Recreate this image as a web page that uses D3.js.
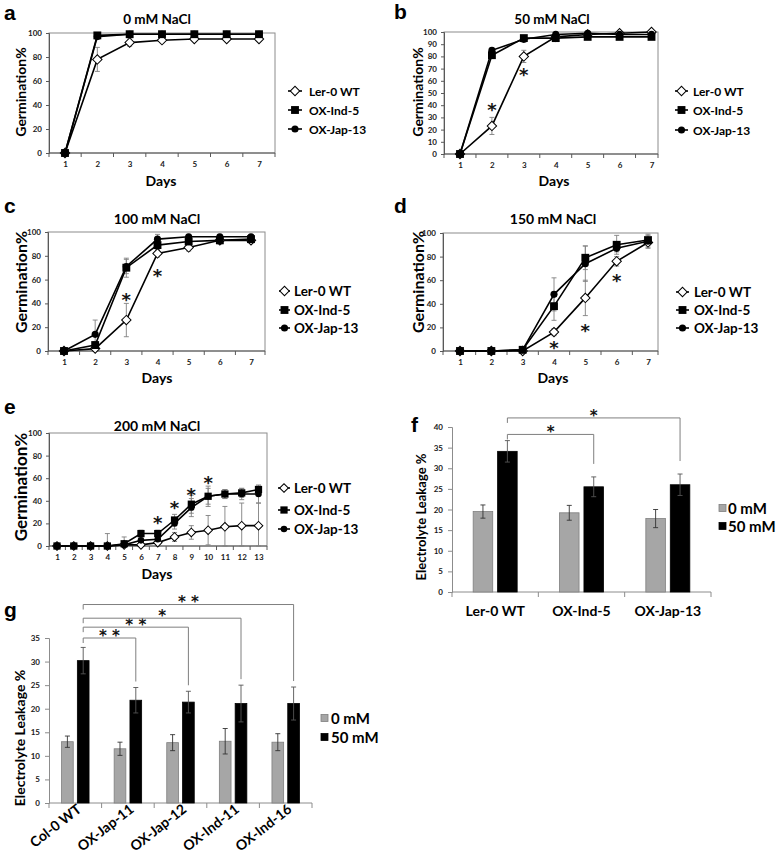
<!DOCTYPE html>
<html><head><meta charset="utf-8">
<script src="https://cdn.jsdelivr.net/npm/d3@7"></script>
<style>body{margin:0;background:#fff} svg{display:block}</style>
</head><body><svg id="chart" width="780" height="860"></svg>
<script>
// ---------------- DATA ----------------
const seriesNames = ["Ler-0 WT", "OX-Ind-5", "OX-Jap-13"];
const days7 = [1, 2, 3, 4, 5, 6, 7];
const days13 = [1, 2, 3, 4, 5, 6, 7, 8, 9, 10, 11, 12, 13];

// a: 0 mM NaCl
const a_ler = [0, 78, 92, 94, 95, 95, 95];
const a_lerErr = [0, 10, 3, 2, 1, 1, 1];
const a_ind = [0, 98, 99, 99, 99, 99, 99];
const a_indErr = [0, 1, 1, 1, 1, 1, 1];
const a_jap = [0, 97, 99, 99, 99, 99, 99];
const a_japErr = [0, 1, 0, 0, 0, 0, 0];
const a_stars = [];

// b: 50 mM NaCl
const b_ler = [0, 23, 80, 96, 98, 99, 100];
const b_lerErr = [0, 7, 5, 1, 1, 1, 0];
const b_ind = [0, 81, 95, 95, 96, 96, 96];
const b_indErr = [0, 2, 1, 1, 1, 1, 1];
const b_jap = [0, 85, 94, 98, 99, 98, 98];
const b_japErr = [0, 2, 2, 1, 1, 1, 1];
const b_stars = [[2, 40], [3, 68]];

// c: 100 mM NaCl
const c_ler = [0, 2, 26, 82, 87, 93, 93];
const c_lerErr = [0, 1, 14, 3, 3, 2, 2];
const c_ind = [0, 5, 70, 89, 92, 93, 94];
const c_indErr = [0, 3, 8, 4, 2, 3, 3];
const c_jap = [0, 14, 71, 94, 96, 96, 96];
const c_japErr = [0, 12, 6, 4, 2, 2, 2];
const c_stars = [[3, 47], [4, 67]];

// d: 150 mM NaCl
const d_ler = [0, 0, 0, 16, 45, 76, 92];
const d_lerErr = [0, 0, 0, 3, 15, 4, 4];
const d_ind = [0, 0, 1, 38, 79, 90, 94];
const d_indErr = [0, 0, 1, 12, 10, 8, 4];
const d_jap = [0, 0, 1, 48, 74, 87, 93];
const d_japErr = [0, 0, 1, 14, 15, 3, 6];
const d_stars = [[4, 6], [5, 21], [6, 63]];

// e: 200 mM NaCl
const e_ler = [0, 0, 0, 0, 1, 1, 3, 8, 12, 14, 17, 18, 18];
const e_lerErr = [0, 0, 0, 11, 7, 2, 3, 4, 6, 13, 18, 20, 20];
const e_ind = [0, 0, 0, 0, 2, 11, 11, 23, 37, 44, 46, 47, 50];
const e_indErr = [0, 0, 0, 0, 2, 3, 3, 5, 8, 7, 4, 4, 3];
const e_jap = [0, 0, 0, 0, 1, 5, 6, 20, 34, 44, 46, 46, 46];
const e_japErr = [0, 0, 0, 0, 1, 2, 2, 5, 8, 9, 4, 5, 8];
const e_stars = [[7, 24], [8, 38], [9, 49], [10, 60]];

// f: electrolyte leakage (Ler background)
const legendLabels = ["0 mM", "50 mM"];
const f_cats = ["Ler-0 WT", "OX-Ind-5", "OX-Jap-13"];
const f_0mM = [19.5, 19.2, 17.8];
const f_0mMErr = [1.6, 1.8, 2.2];
const f_50mM = [34.1, 25.5, 26.0];
const f_50mMErr = [2.6, 2.4, 2.6];
const f_sig = [["OX-Ind-5", "*", 38.2], ["OX-Jap-13", "*", 42.2]];

// g: electrolyte leakage (Col background)
const g_cats = ["Col-0 WT", "OX-Jap-11", "OX-Jap-12", "OX-Ind-11", "OX-Ind-16"];
const g_0mM = [13.0, 11.5, 12.8, 13.1, 12.9];
const g_0mMErr = [1.2, 1.4, 1.7, 2.7, 1.8];
const g_50mM = [30.2, 21.8, 21.4, 21.1, 21.1];
const g_50mMErr = [2.8, 2.7, 2.3, 3.9, 3.5];
const g_sig = [["OX-Jap-11", "* *", 35.0], ["OX-Jap-12", "* *", 37.3], ["OX-Ind-11", "*", 39.2], ["OX-Ind-16", "* *", 42.1]];

// ---------------- DRAWING ----------------
const FONT = 'Lato, "Open Sans", "DejaVu Sans", sans-serif';
const STARFONT = '"DejaVu Sans", sans-serif';
const svg = d3.select("#chart").attr("font-family", FONT).attr("fill", "#000");
const AX = "#595959", FRAME = "#8c8c8c", ERR = "#808080";
const markerTypes = ["diamond", "square", "circle"];

function styleAxisText(sel, fs) {
  sel.selectAll("text").attr("font-size", fs).attr("font-weight", "bold").attr("fill", "#1a1a1a").attr("font-family", FONT);
}

function star(g, x, y, txt, fs) {
  // y = visual centre of the asterisk
  g.append("text").attr("x", x).attr("y", y + 0.58 * fs).attr("text-anchor", "middle")
    .attr("font-family", STARFONT).attr("font-size", fs).attr("font-weight", "bold")
    .attr("fill", "#111").attr("opacity", 0.99).text(txt);
}

function drawMarker(g, type, cx, cy, sc) {
  if (type === "diamond") {
    g.append("path").attr("d", d3.symbol(d3.symbolSquare, 44 * sc)())
      .attr("transform", `translate(${cx},${cy}) rotate(45)`)
      .attr("fill", "#fff").attr("stroke", "#000").attr("stroke-width", 1);
  } else if (type === "square") {
    g.append("path").attr("d", d3.symbol(d3.symbolSquare, 62 * sc)())
      .attr("transform", `translate(${cx},${cy})`).attr("fill", "#000");
  } else {
    g.append("path").attr("d", d3.symbol(d3.symbolCircle, 40 * sc)())
      .attr("transform", `translate(${cx},${cy})`).attr("fill", "#000");
  }
}

function linePanel(p) {
  const g = svg.append("g");
  const x = d3.scalePoint().domain(p.days).range([p.c0, p.c1]);
  const y = d3.scaleLinear().domain([0, 100]).range([p.y1, p.y0]);
  const step = x.step();

  g.append("rect").attr("x", p.x0).attr("y", p.y0).attr("width", p.x1 - p.x0).attr("height", p.y1 - p.y0)
    .attr("fill", "none").attr("stroke", FRAME).attr("stroke-width", 1);

  const ya = g.append("g").attr("transform", `translate(${p.x0},0)`)
    .call(d3.axisLeft(y).tickValues(p.yTicks).tickSize(3).tickPadding(4));
  ya.select(".domain").attr("stroke", AX);
  ya.selectAll(".tick line").attr("stroke", AX);
  styleAxisText(ya, p.tickFs);

  const xa = g.append("g").attr("transform", `translate(0,${p.y1})`)
    .call(d3.axisBottom(x).tickSize(0).tickPadding(8));
  xa.select(".domain").remove();
  styleAxisText(xa, p.tickFs);
  g.append("line").attr("x1", p.x0).attr("x2", p.x1).attr("y1", p.y1).attr("y2", p.y1).attr("stroke", AX);
  const bounds = [p.x0, ...p.days.slice(0, -1).map(d => x(d) + step / 2), p.x1];
  g.selectAll(null).data(bounds).enter().append("line")
    .attr("x1", d => d).attr("x2", d => d).attr("y1", p.y1).attr("y2", p.y1 + 4).attr("stroke", AX);

  const series = p.series.map((s, i) => ({
    type: markerTypes[i],
    pts: p.days.map((d, k) => ({ d, v: s[0][k], e: s[1][k] }))
  }));

  // error bars
  series.forEach(s => {
    s.pts.filter(q => q.e > 0).forEach(q => {
      const cx = x(q.d), t = y(q.v + q.e), b = y(Math.max(q.v - q.e, 0));
      g.append("line").attr("x1", cx).attr("x2", cx).attr("y1", t).attr("y2", b).attr("stroke", ERR).attr("stroke-width", 0.9);
      [t, b].forEach(yy => g.append("line").attr("x1", cx - 2.5).attr("x2", cx + 2.5).attr("y1", yy).attr("y2", yy).attr("stroke", ERR).attr("stroke-width", 0.9));
    });
  });
  // lines
  const line = d3.line().x(q => x(q.d)).y(q => y(q.v));
  series.forEach(s => g.append("path").attr("d", line(s.pts)).attr("fill", "none").attr("stroke", "#000").attr("stroke-width", 1.6));
  // markers: Ler, Jap, Ind
  [0, 2, 1].forEach(i => series[i].pts.forEach(q => drawMarker(g, series[i].type, x(q.d), y(q.v), p.mk)));

  // stars
  p.stars.forEach(([d, v]) => star(g, x(d), y(v), "*", p.starFs));

  // texts
  g.append("text").attr("x", p.title[0]).attr("y", p.title[1]).attr("text-anchor", "middle").attr("dominant-baseline", "central")
    .attr("font-size", p.titleFs).attr("font-weight", "bold").text(p.titleText);
  g.append("text").attr("x", p.letter[0]).attr("y", p.letter[1]).attr("font-size", 21).attr("font-weight", "bold")
    .attr("font-family", '"Liberation Sans", Arial, sans-serif').text(p.letterText);
  g.append("text").attr("x", p.daysXY[0]).attr("y", p.daysXY[1]).attr("text-anchor", "middle").attr("dominant-baseline", "central")
    .attr("font-size", 14).attr("font-weight", "bold").text("Days");
  g.append("text").attr("transform", `translate(${p.ylab[0]},${p.ylab[1]}) rotate(-90)`).attr("text-anchor", "middle")
    .attr("dominant-baseline", "central").attr("font-size", p.ylab[2]).attr("font-weight", "bold").text("Germination%");

  // legend
  seriesNames.forEach((nm, i) => {
    const ly = p.legend.ys[i];
    g.append("line").attr("x1", p.legend.l0).attr("x2", p.legend.l1).attr("y1", ly).attr("y2", ly).attr("stroke", "#000").attr("stroke-width", 1.6);
    drawMarker(g, markerTypes[i], (p.legend.l0 + p.legend.l1) / 2, ly, p.mk);
    g.append("text").attr("x", p.legend.tx).attr("y", ly).attr("dominant-baseline", "central")
      .attr("font-size", p.legend.fs).attr("font-weight", "bold").text(nm);
  });
}

const t20 = d3.range(0, 101, 20), t10 = d3.range(0, 101, 10);
linePanel({ days: days7, series: [[a_ler, a_lerErr], [a_ind, a_indErr], [a_jap, a_japErr]], stars: a_stars, starFs: 18,
  x0: 49, x1: 275, c0: 65, c1: 259, y0: 33, y1: 153, yTicks: t20, tickFs: 8, mk: 1,
  titleText: "0 mM NaCl", titleFs: 13.5, title: [157, 19], letterText: "a", letter: [4, 20], daysXY: [161, 180], ylab: [20, 92, 14],
  legend: { l0: 288, l1: 302, tx: 309, ys: [91, 110, 129], fs: 12 } });
linePanel({ days: days7, series: [[b_ler, b_lerErr], [b_ind, b_indErr], [b_jap, b_japErr]], stars: b_stars, starFs: 18,
  x0: 444, x1: 658, c0: 460, c1: 651.5, y0: 32, y1: 154, yTicks: t10, tickFs: 8, mk: 1,
  titleText: "50 mM NaCl", titleFs: 13.5, title: [552, 19], letterText: "b", letter: [394, 19], daysXY: [554, 180], ylab: [417, 92, 14],
  legend: { l0: 675, l1: 688, tx: 693, ys: [91, 110, 130], fs: 12 } });
linePanel({ days: days7, series: [[c_ler, c_lerErr], [c_ind, c_indErr], [c_jap, c_japErr]], stars: c_stars, starFs: 18,
  x0: 48, x1: 265, c0: 64, c1: 251, y0: 232, y1: 351, yTicks: t20, tickFs: 8, mk: 1,
  titleText: "100 mM NaCl", titleFs: 14, title: [157, 218], letterText: "c", letter: [4, 213], daysXY: [157, 377], ylab: [20, 282, 16],
  legend: { l0: 279, l1: 290, tx: 294, ys: [291, 310, 328], fs: 13.5 } });
linePanel({ days: days7, series: [[d_ler, d_lerErr], [d_ind, d_indErr], [d_jap, d_japErr]], stars: d_stars, starFs: 18,
  x0: 443, x1: 658, c0: 460, c1: 648, y0: 233, y1: 351, yTicks: t20, tickFs: 8, mk: 1,
  titleText: "150 mM NaCl", titleFs: 14, title: [553, 218], letterText: "d", letter: [394, 213], daysXY: [553, 377], ylab: [417, 282, 16],
  legend: { l0: 676, l1: 689, tx: 694, ys: [292, 310, 328], fs: 13.5 } });
linePanel({ days: days13, series: [[e_ler, e_lerErr], [e_ind, e_indErr], [e_jap, e_japErr]], stars: e_stars, starFs: 18,
  x0: 49, x1: 267, c0: 57, c1: 258.5, y0: 433, y1: 546, yTicks: t20, tickFs: 8, mk: 0.85,
  titleText: "200 mM NaCl", titleFs: 14, title: [157, 425], letterText: "e", letter: [4, 414], daysXY: [157, 573], ylab: [20, 487, 17],
  legend: { l0: 278, l1: 290, tx: 294, ys: [488, 510, 529], fs: 13.5 } });

function barPanel(p) {
  const g = svg.append("g");
  const x = d3.scaleBand().domain(p.cats).range([p.x0, p.x1]);
  const bw = x.bandwidth();
  const xs = d3.scaleBand().domain(legendLabels).range([(bw - p.groupW) / 2, (bw + p.groupW) / 2]).paddingInner(p.pad);
  const y = d3.scaleLinear().domain([0, p.yMax]).range([p.y1, p.y0]);

  const ya = g.append("g").attr("transform", `translate(${p.x0},0)`)
    .call(d3.axisLeft(y).tickValues(d3.range(0, p.yMax + 0.1, 5)).tickSize(4).tickPadding(5));
  ya.select(".domain").attr("stroke", FRAME);
  ya.selectAll(".tick line").attr("stroke", FRAME);
  styleAxisText(ya, 8);

  g.append("line").attr("x1", p.x0).attr("x2", p.x1).attr("y1", p.y1).attr("y2", p.y1).attr("stroke", FRAME);
  const bounds = [...p.cats.map(c => x(c)), p.x1];
  g.selectAll(null).data(bounds).enter().append("line")
    .attr("x1", d => d).attr("x2", d => d).attr("y1", p.y1).attr("y2", p.y1 + 5).attr("stroke", FRAME);

  const sets = [[p.v0, p.e0, "#a6a6a6", "#7f7f7f"], [p.v1, p.e1, "#000", "#000"]];
  sets.forEach(([vals, errs, fill, stroke], si) => {
    p.cats.forEach((c, k) => {
      const bx = x(c) + xs(legendLabels[si]);
      g.append("rect").attr("x", bx).attr("y", y(vals[k])).attr("width", xs.bandwidth()).attr("height", y(0) - y(vals[k]))
        .attr("fill", fill).attr("stroke", stroke).attr("stroke-width", 0.8);
      const cx = bx + xs.bandwidth() / 2, t = y(vals[k] + errs[k]), b = y(vals[k] - errs[k]);
      const col = si === 0 ? "#333" : "#555";
      g.append("line").attr("x1", cx).attr("x2", cx).attr("y1", t).attr("y2", b).attr("stroke", col).attr("stroke-width", 0.9);
      [t, b].forEach(yy => g.append("line").attr("x1", cx - 2.5).attr("x2", cx + 2.5).attr("y1", yy).attr("y2", yy).attr("stroke", col).attr("stroke-width", 0.9));
    });
  });

  // significance brackets
  const bc = c => x(c) + xs(legendLabels[1]) + xs.bandwidth() / 2;
  const x0c = bc(p.cats[0]);
  p.sig.forEach(([c, lab, lvl]) => {
    const k = p.cats.indexOf(c);
    const by = y(lvl), xr = bc(c);
    const dropTo = y(p.v1[k] + p.e1[k]) - p.gap;
    g.append("path").attr("d", `M${x0c},${by + 5}V${by}H${xr}V${dropTo}`).attr("fill", "none").attr("stroke", "#7f7f7f").attr("stroke-width", 1);
    star(g, (x0c + xr) / 2, by - 6, lab, p.starFs);
  });

  // y label
  g.append("text").attr("transform", `translate(${p.ylab[0]},${p.ylab[1]}) rotate(-90)`).attr("text-anchor", "middle")
    .attr("dominant-baseline", "central").attr("font-size", p.ylab[2]).attr("font-weight", "bold").text("Electrolyte Leakage %");

  // x labels
  p.cats.forEach(c => {
    const cx = x(c) + bw / 2;
    if (p.rot) {
      g.append("text").attr("transform", `translate(${cx + 7},${p.y1 + 8}) rotate(-${p.rot})`).attr("text-anchor", "end")
        .attr("font-size", p.xFs).attr("font-weight", "bold").text(c);
    } else {
      g.append("text").attr("x", cx).attr("y", p.y1 + 18).attr("text-anchor", "middle").attr("dominant-baseline", "central")
        .attr("font-size", p.xFs).attr("font-weight", "bold").text(c);
    }
  });

  // legend
  legendLabels.forEach((lab, i) => {
    const ly = p.legend.ys[i];
    g.append("rect").attr("x", p.legend.sx).attr("y", ly - 3.5).attr("width", 7).attr("height", 7)
      .attr("fill", i === 0 ? "#a6a6a6" : "#000").attr("stroke", i === 0 ? "#7f7f7f" : "#000").attr("stroke-width", 0.8);
    g.append("text").attr("x", p.legend.tx).attr("y", ly).attr("dominant-baseline", "central")
      .attr("font-size", p.legend.fs).attr("font-weight", "bold").text(lab);
  });

  g.append("text").attr("x", p.letter[0]).attr("y", p.letter[1]).attr("font-size", 21).attr("font-weight", "bold")
    .attr("font-family", '"Liberation Sans", Arial, sans-serif').text(p.letterText);
}

barPanel({ cats: f_cats, v0: f_0mM, e0: f_0mMErr, v1: f_50mM, e1: f_50mMErr, sig: f_sig,
  x0: 452, x1: 711, y0: 427, y1: 592, yMax: 40, groupW: 44, pad: 0.2, gap: 13, starFs: 15,
  ylab: [421, 517, 13], xFs: 14, rot: 0, legend: { sx: 719, tx: 728, ys: [508, 526], fs: 15 },
  letterText: "f", letter: [411, 432] });
barPanel({ cats: g_cats, v0: g_0mM, e0: g_0mMErr, v1: g_50mM, e1: g_50mMErr, sig: g_sig,
  x0: 49, x1: 312, y0: 638, y1: 803, yMax: 35, groupW: 27.5, pad: 0.26, gap: 6, starFs: 15,
  ylab: [19, 738, 14], xFs: 14, rot: 38, legend: { sx: 321, tx: 331, ys: [718, 737], fs: 15 },
  letterText: "g", letter: [4, 617] });
</script></body></html>
